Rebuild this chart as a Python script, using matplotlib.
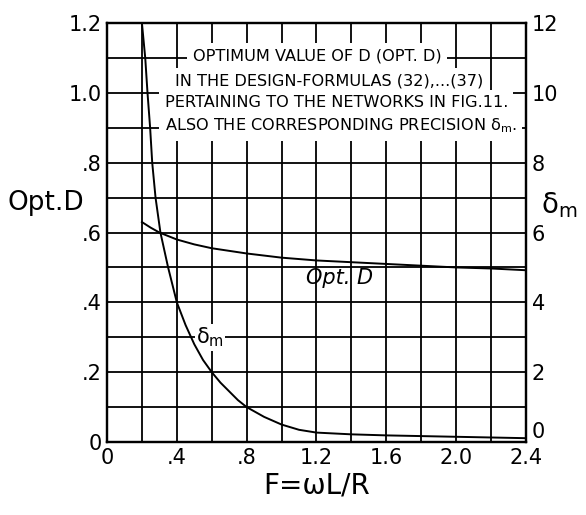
import numpy as np
import matplotlib.pyplot as plt

plt.rcParams['font.family'] = ['DejaVu Sans']

# F = wL/R values and the two curves read at those points
f_opt = [0.2, 0.25, 0.3, 0.4, 0.5, 0.6, 0.8, 1.0, 1.2, 1.4, 1.6, 1.8, 2.0, 2.2, 2.4]
opt_d = [0.63, 0.614, 0.60, 0.58, 0.566, 0.555, 0.54, 0.528, 0.52, 0.515, 0.51,
         0.505, 0.50, 0.497, 0.492]

f_delta = [0.2, 0.219, 0.232, 0.247, 0.259, 0.278, 0.306, 0.35, 0.4, 0.45, 0.5, 0.55,
           0.6, 0.65, 0.7, 0.75, 0.8, 0.9, 1.0, 1.1, 1.2, 1.4, 1.6, 1.8, 2.0, 2.2, 2.4]
delta_m = [12.0, 11.0, 10.0, 9.0, 8.0, 7.0, 6.0, 5.0, 4.0, 3.35, 2.8, 2.35,
           2.0, 1.7, 1.45, 1.2, 1.0, 0.72, 0.5, 0.35, 0.27, 0.22, 0.19, 0.17,
           0.15, 0.13, 0.11]

x_ticks = [0, 0.4, 0.8, 1.2, 1.6, 2.0, 2.4]
x_labels = ['0', '.4', '.8', '1.2', '1.6', '2.0', '2.4']
y_ticks = [0, 0.2, 0.4, 0.6, 0.8, 1.0, 1.2]
y_labels = ['0', '.2', '.4', '.6', '.8', '1.0', '1.2']
y2_ticks = [0, 2, 4, 6, 8, 10, 12]

title_lines = ['OPTIMUM VALUE OF D (OPT. D)',
               'IN THE DESIGN-FORMULAS (32),...(37)',
               'PERTAINING TO THE NETWORKS IN FIG.11.',
               'ALSO THE CORRESPONDING PRECISION δ$_\\mathregular{m}$.']
title_x = [0.49, 0.39, 0.33, 0.33]
title_y = [1.105, 1.035, 0.972, 0.905]

fig = plt.figure(figsize=(5.86, 5.15), dpi=100)
ax = fig.add_axes([0.1826, 0.1417, 0.715, 0.8136])
ax2 = ax.twinx()

ax.set_xlim(0, 2.4)
ax.set_ylim(0, 1.2)
ax2.set_ylim(0, 12)

# grid: every 0.2 in F, every 0.1 in Opt.D
for gx in np.arange(0.2, 2.4, 0.2):
    ax.axvline(gx, color='black', lw=1.3, zorder=1)
for gy in np.arange(0.1, 1.2, 0.1):
    ax.axhline(gy, color='black', lw=1.3, zorder=1)

for s in ax.spines.values():
    s.set_linewidth(1.6)
for s in ax2.spines.values():
    s.set_linewidth(1.6)

ax.plot(f_opt, opt_d, color='black', lw=1.4, zorder=3)
ax2.plot(f_delta, delta_m, color='black', lw=1.4, zorder=3)

ax.set_xticks(x_ticks)
ax.set_xticklabels(x_labels, fontsize=15)
ax.set_yticks(y_ticks)
ax.set_yticklabels(y_labels, fontsize=15)
ax2.set_yticks(y2_ticks)
ax2.set_yticklabels([str(v) for v in y2_ticks], fontsize=15)
ax.tick_params(length=0, pad=4)
ax2.tick_params(length=0, pad=4)
# right-hand zero sits just above the bottom line
ax2.get_yticklabels()[0].set_va('bottom')

ax.set_xlabel('F=ωL/R', fontsize=20, labelpad=3)
fig.text(0.078, 0.605, 'Opt.D', fontsize=19, ha='center', va='center')
fig.text(0.954, 0.602, 'δ$_\\mathregular{m}$', fontsize=20, ha='center', va='center')

ax.text(1.33, 0.47, 'Opt. D', fontsize=15, style='italic', ha='center', va='center',
        zorder=4)
ax.text(0.59, 0.30, 'δ$_\\mathregular{m}$', fontsize=15, ha='center', va='center',
        zorder=4, bbox=dict(facecolor='white', edgecolor='none', pad=1))

# title block on white, blanking the grid behind it
for line, tx, ty in zip(title_lines, title_x, title_y):
    ax.text(tx, ty, line, fontsize=11.6, ha='left', va='center', zorder=5,
            bbox=dict(facecolor='white', edgecolor='none', pad=4))

fig.savefig('out.png', dpi=100)
